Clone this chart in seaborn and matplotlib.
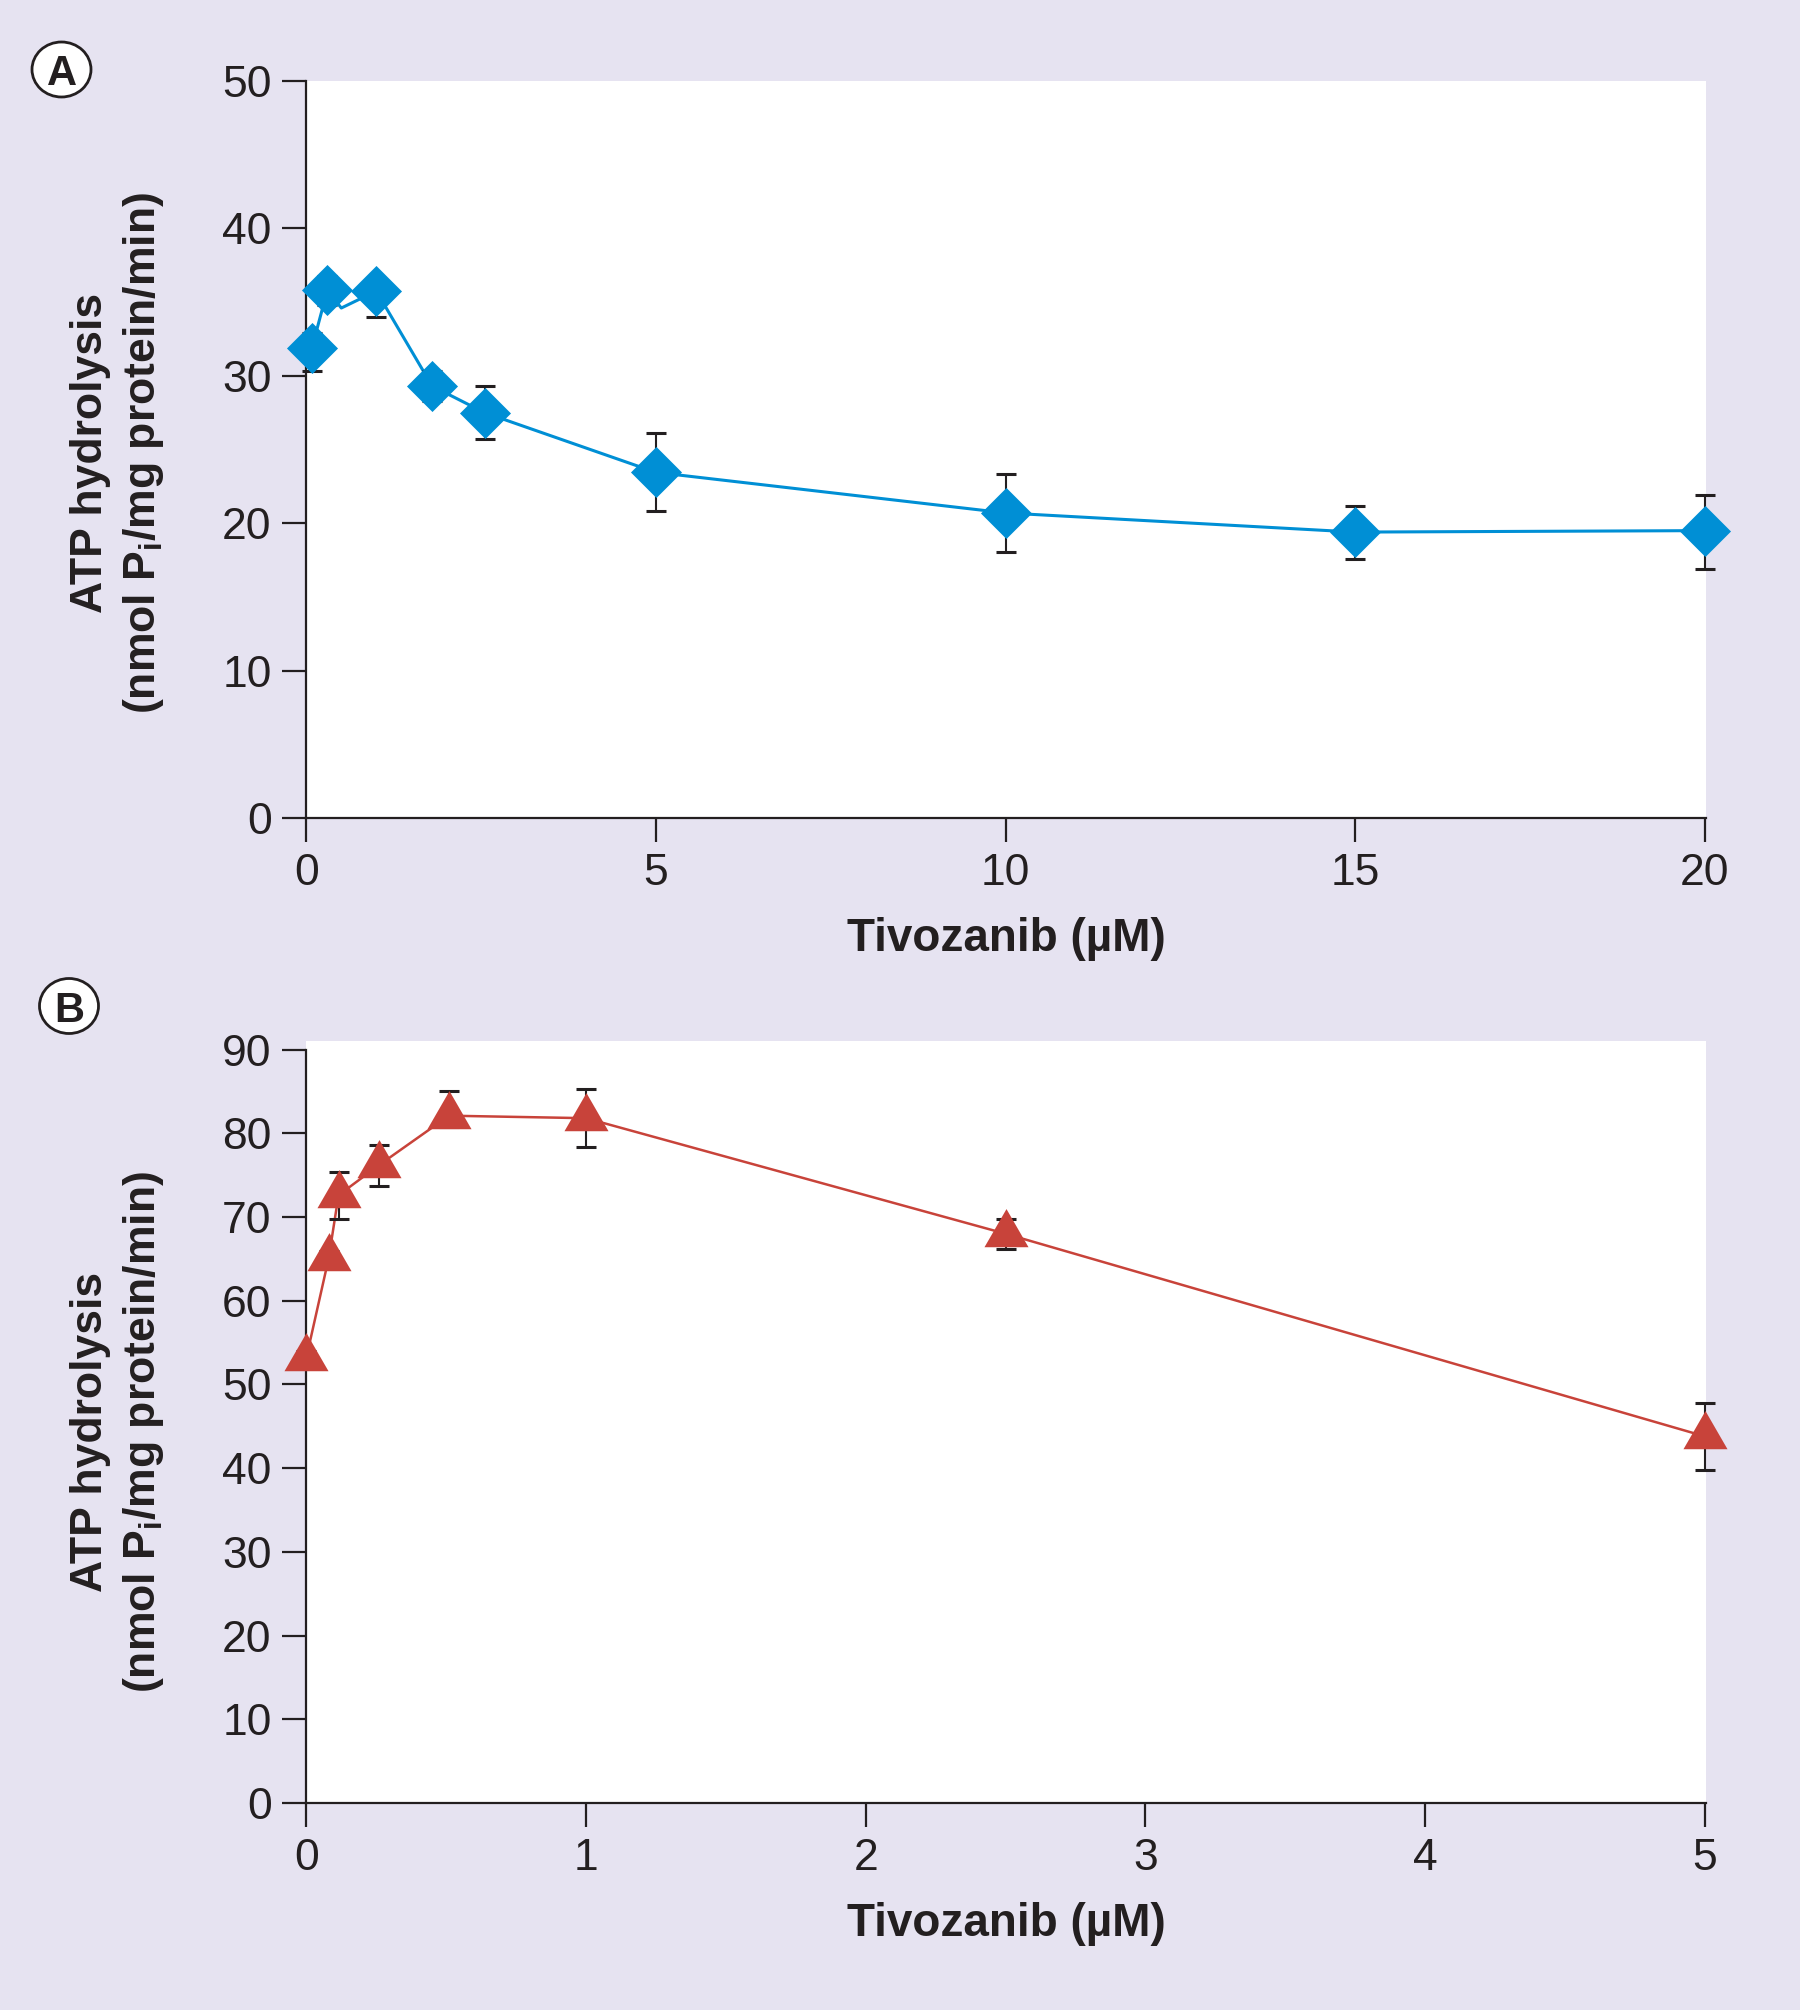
import numpy as np
import pandas as pd
import matplotlib
matplotlib.use("Agg")
import matplotlib.pyplot as plt
import seaborn as sns
from matplotlib.path import Path
from matplotlib.patches import Ellipse

# ---- data ----
# panel A: tivozanib 0-20 uM
a_dose = [0.08, 0.3, 0.5, 1.0, 1.8, 2.55, 5, 10, 15, 20]
a_atp = [31.9, 35.8, 34.6, 35.75, 29.3, 27.5, 23.45, 20.7, 19.4, 19.5]
a_err_lo = [1.6, 1.0, 0.0, 1.75, 1.0, 1.8, 2.65, 2.65, 1.8, 2.6]
a_err_hi = [1.0, 1.0, 0.0, 0.9, 1.0, 1.8, 2.65, 2.65, 1.8, 2.4]
a_marker = [True, True, False, True, True, True, True, True, True, True]

# panel B: tivozanib 0-5 uM
b_dose = [0.0, 0.08, 0.115, 0.26, 0.51, 1.0, 2.5, 5.0]
b_atp = [53.2, 65.1, 72.6, 76.2, 82.1, 81.8, 68.0, 43.8]
b_err_lo = [0.8, 0.8, 2.8, 2.45, 1.4, 3.4, 1.8, 4.0]
b_err_hi = [0.8, 0.8, 2.8, 2.45, 2.9, 3.5, 1.8, 4.0]

a_xticks = [0, 5, 10, 15, 20]
a_yticks = [0, 10, 20, 30, 40, 50]
b_xticks = [0, 1, 2, 3, 4, 5]
b_yticks = [0, 10, 20, 30, 40, 50, 60, 70, 80, 90]

ylabel = "ATP hydrolysis\n(nmol P$_\\mathbf{i}$/mg protein/min)"
xlabel = "Tivozanib (\u00b5M)"

BLUE = "#008FD5"
RED = "#C8433A"
BG = "#E6E3F1"
INK = "#231F20"

sns.set_theme(style="ticks")
plt.rcParams["font.family"] = ["Liberation Sans", "DejaVu Sans"]
plt.rcParams["mathtext.fontset"] = "custom"
plt.rcParams["mathtext.rm"] = "Liberation Sans"
plt.rcParams["mathtext.bf"] = "Liberation Sans:bold"
plt.rcParams["mathtext.it"] = "Liberation Sans:italic"

# triangle with its centroid at the origin
tri = Path([(0, 0.577), (-0.5, -0.289), (0.5, -0.289), (0, 0.577)],
           [Path.MOVETO, Path.LINETO, Path.LINETO, Path.CLOSEPOLY])

fig = plt.figure(figsize=(18, 20.1), dpi=100, facecolor=BG)
ax_a = fig.add_axes([0.1702, 0.5930, 0.7776, 0.3667])
ax_b = fig.add_axes([0.1702, 0.1030, 0.7776, 0.3790])

df_a = pd.DataFrame({"dose": a_dose, "atp": a_atp, "lo": a_err_lo,
                     "hi": a_err_hi, "mk": a_marker})
df_b = pd.DataFrame({"dose": b_dose, "atp": b_atp, "lo": b_err_lo,
                     "hi": b_err_hi})


def style_axes(ax, xticks, yticks, xlim, ylim):
    ax.set_facecolor("white")
    ax.set_xlim(*xlim)
    ax.set_ylim(*ylim)
    ax.set_xticks(xticks)
    ax.set_yticks(yticks)
    for s in ["top", "right"]:
        ax.spines[s].set_visible(False)
    for s in ["left", "bottom"]:
        ax.spines[s].set_linewidth(1.6)
        ax.spines[s].set_color(INK)
    ax.spines["left"].set_bounds(yticks[0], yticks[-1])
    ax.tick_params(direction="out", length=17, width=1.6, color=INK,
                   labelsize=32, labelcolor=INK)
    ax.tick_params(axis="x", pad=8)
    ax.tick_params(axis="y", pad=8)
    ax.set_xlabel(xlabel, fontsize=33, fontweight="bold", color=INK, va="top")
    ax.set_ylabel(ylabel, fontsize=32, fontweight="bold", color=INK,
                  linespacing=1.32)


def add_errors(ax, d):
    ax.errorbar(d["dose"], d["atp"], yerr=[d["lo"], d["hi"]], fmt="none",
                ecolor=INK, elinewidth=1.5, capsize=7, capthick=2.2,
                zorder=3, clip_on=False)


# panel A
sns.lineplot(data=df_a, x="dose", y="atp", ax=ax_a, color=BLUE, lw=2.2,
             sort=False, zorder=2, clip_on=False)
add_errors(ax_a, df_a[df_a["mk"]])
sns.scatterplot(data=df_a[df_a["mk"]], x="dose", y="atp", ax=ax_a, marker="D",
                s=676, color=BLUE, linewidth=0, zorder=4, clip_on=False)
style_axes(ax_a, a_xticks, a_yticks, (0, 20.02), (0, 50))

# panel B
sns.lineplot(data=df_b, x="dose", y="atp", ax=ax_b, color=RED, lw=1.8,
             sort=False, zorder=2, clip_on=False)
add_errors(ax_b, df_b)
sns.scatterplot(data=df_b, x="dose", y="atp", ax=ax_b, marker=tri, s=1340,
                color=RED, linewidth=0, zorder=4, clip_on=False)
style_axes(ax_b, b_xticks, b_yticks, (0, 5.005), (0, 91))

ax_a.xaxis.set_label_coords(0.5, -0.134)
ax_b.xaxis.set_label_coords(0.5, -0.130)
ax_a.yaxis.set_label_coords(-0.1, 0.495)
ax_b.yaxis.set_label_coords(-0.1, 0.487)

# circled panel letters
for letter, cx, cy in [("A", 61.5, 69.5), ("B", 69, 1006)]:
    fig.add_artist(Ellipse((cx / 1800, 1 - cy / 2010), 59 / 1800, 55 / 2010,
                           transform=fig.transFigure, facecolor="white",
                           edgecolor=INK, lw=2))
    fig.text(cx / 1800, 1 - (cy + 15.5) / 2010, letter, fontsize=30,
             fontweight="bold", color=INK, ha="center", va="baseline")

fig.savefig("out.png", dpi=100, facecolor=BG)
